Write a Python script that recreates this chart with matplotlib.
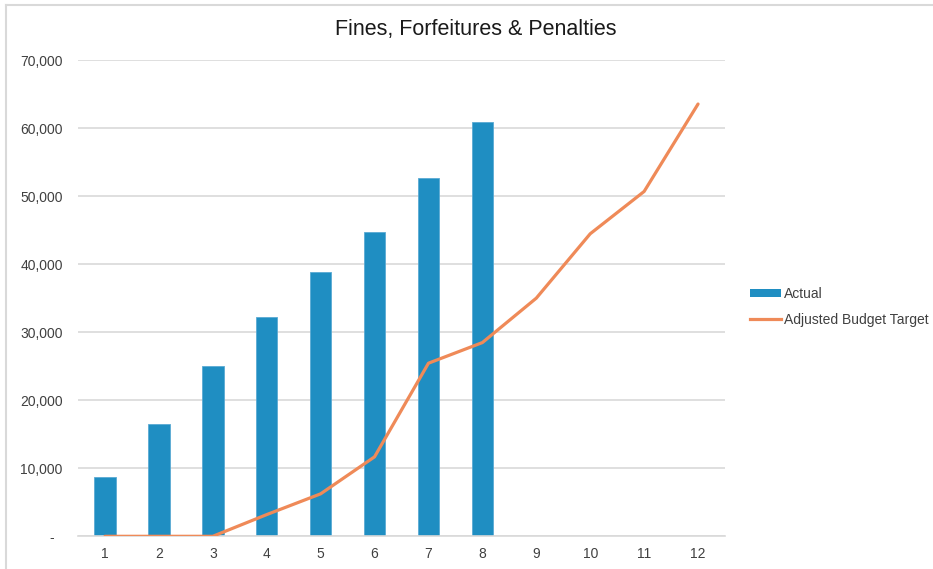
import matplotlib
matplotlib.use("Agg")
import matplotlib.pyplot as plt
from matplotlib.lines import Line2D
from matplotlib.patches import Patch
from matplotlib.ticker import FuncFormatter, MultipleLocator

plt.rcParams["font.family"] = ["Liberation Sans", "DejaVu Sans"]

# Monthly periods and values
periods = list(range(1, 13))
actual = [8680, 16530, 25040, 32200, 38820, 44650, 52650, 60820]
budget_target = [0, 0, 0, 3190, 6240, 11680, 25440, 28470, 35000, 44460, 50680, 63530]

title = "Fines, Forfeitures & Penalties"
series_names = ["Actual", "Adjusted Budget Target"]

bar_color = "#1F8EC2"
line_color = "#EF8A58"
grid_color = "#D9D9D9"
text_color = "#404040"

fig = plt.figure(figsize=(9.33, 5.69), dpi=100)
ax = fig.add_axes([78 / 933, 1 - 536.3 / 569, (725 - 78) / 933, (536.3 - 60) / 569])

ax.bar(periods[:len(actual)], actual, width=0.4, color=bar_color,
       edgecolor="#5AAAD3", linewidth=0.6, zorder=2)
ax.plot(periods, budget_target, color=line_color, linewidth=2.3,
        solid_capstyle="round", solid_joinstyle="round", zorder=3)

ax.set_xlim(0.5, 12.5)
ax.set_ylim(0, 70000)
ax.set_xticks(periods)
ax.yaxis.set_major_locator(MultipleLocator(10000))
ax.yaxis.set_major_formatter(
    FuncFormatter(lambda v, p: "-  " if v == 0 else f"{v:,.0f}"))

ax.grid(axis="y", color=grid_color, linewidth=1.2, zorder=0)
ax.set_axisbelow(True)
for side in ["top", "right", "left"]:
    ax.spines[side].set_visible(False)
ax.spines["bottom"].set_color(grid_color)
ax.spines["bottom"].set_linewidth(1.2)
ax.tick_params(axis="both", length=0, labelsize=10, labelcolor=text_color)
ax.tick_params(axis="y", pad=11)
ax.tick_params(axis="x", pad=8)

fig.text(476 / 933, 1 - 29 / 569, title, ha="center", va="center",
         fontsize=15.5, color="#1A1A1A")

handles = [Patch(facecolor=bar_color, edgecolor="none"),
           Line2D([0], [0], color=line_color, linewidth=2.3)]
fig.legend(handles, series_names, loc="center left",
           bbox_to_anchor=(750 / 933, 1 - 307 / 569), frameon=False,
           fontsize=10, handlelength=2.2, handleheight=0.5, handletextpad=0.25,
           labelspacing=0.85, borderpad=0, borderaxespad=0,
           labelcolor=text_color)

# chart frame edges along the top and left
fig.add_artist(Line2D([6 / 933, 1], [1 - 5 / 569, 1 - 5 / 569],
                      transform=fig.transFigure, color="#D9D9D9", linewidth=1.5))
fig.add_artist(Line2D([6 / 933, 6 / 933], [0, 1 - 5 / 569],
                      transform=fig.transFigure, color="#D9D9D9", linewidth=1.5))

fig.savefig("out.png", dpi=100, facecolor="white")
